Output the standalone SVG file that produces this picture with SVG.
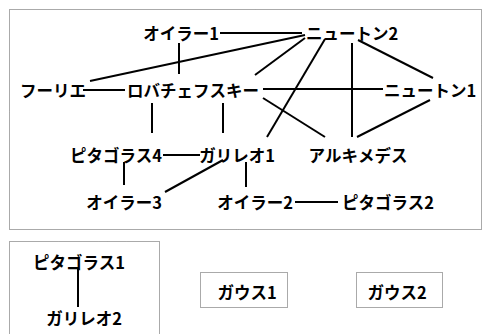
<svg xmlns="http://www.w3.org/2000/svg" width="482" height="334" viewBox="0 0 482 334">
<style>
.bg{fill:#fff}
.box{fill:none;stroke:#555;stroke-width:1;stroke-dasharray:1 1}
.e{stroke:#000;stroke-width:2;fill:none}
text{font-family:"Noto Sans CJK JP","DejaVu Sans",sans-serif;font-size:16.5px;font-weight:bold;fill:#000;text-anchor:middle;dominant-baseline:central}
</style>
<rect class="bg" x="0" y="0" width="482" height="334"/>
<rect class="box" x="9.5" y="9.5" width="472" height="220"/>
<rect class="box" x="9.5" y="241.5" width="150" height="100"/>
<rect class="box" x="200.5" y="272.5" width="87" height="35"/>
<rect class="box" x="356.5" y="272.5" width="86" height="35"/>
<g id="edges">
<line class="e" x1="220" y1="33" x2="302" y2="33"/>
<line class="e" x1="179" y1="43" x2="179" y2="74"/>
<line class="e" x1="90" y1="81" x2="305" y2="35"/>
<line class="e" x1="83" y1="90" x2="125" y2="90"/>
<line class="e" x1="305" y1="38" x2="255" y2="75"/>
<line class="e" x1="325" y1="39" x2="267" y2="137"/>
<line class="e" x1="352" y1="43" x2="352" y2="137"/>
<line class="e" x1="358" y1="40" x2="433" y2="78"/>
<line class="e" x1="263" y1="89" x2="383" y2="89"/>
<line class="e" x1="263" y1="98" x2="325" y2="137"/>
<line class="e" x1="430" y1="100" x2="357" y2="137"/>
<line class="e" x1="152" y1="103" x2="152" y2="133"/>
<line class="e" x1="223" y1="103" x2="223" y2="133"/>
<line class="e" x1="163" y1="155" x2="200" y2="155"/>
<line class="e" x1="124" y1="162" x2="124" y2="185"/>
<line class="e" x1="223" y1="160" x2="165" y2="192"/>
<line class="e" x1="246" y1="162" x2="246" y2="187"/>
<line class="e" x1="295" y1="202" x2="338" y2="202"/>
<line class="e" x1="78" y1="268" x2="78" y2="307"/>
</g>
<g id="euler1"><text x="181" y="33">オイラー1</text></g>
<g id="newton2"><text x="352" y="33">ニュートン2</text></g>
<g id="fourier"><text x="53" y="90">フーリエ</text></g>
<g id="lobachevsky"><text x="193" y="90">ロバチェフスキー</text></g>
<g id="newton1"><text x="430" y="90">ニュートン1</text></g>
<g id="pythagoras4"><text x="116" y="155">ピタゴラス4</text></g>
<g id="galileo1"><text x="237" y="155">ガリレオ1</text></g>
<g id="archimedes"><text x="358" y="155">アルキメデス</text></g>
<g id="euler3"><text x="124" y="202">オイラー3</text></g>
<g id="euler2"><text x="255" y="202">オイラー2</text></g>
<g id="pythagoras2"><text x="388" y="202">ピタゴラス2</text></g>
<g id="pythagoras1"><text x="79" y="262">ピタゴラス1</text></g>
<g id="galileo2"><text x="84" y="318">ガリレオ2</text></g>
<g id="gauss1"><text x="247" y="292">ガウス1</text></g>
<g id="gauss2"><text x="397" y="292">ガウス2</text></g>
</svg>
